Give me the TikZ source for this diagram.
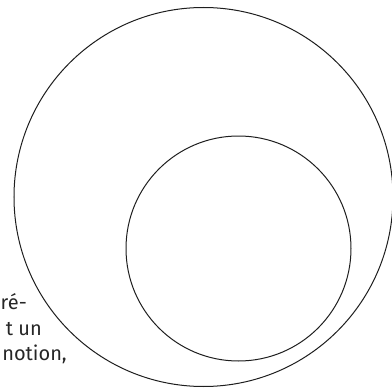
\documentclass[tikz,border=0pt]{standalone}
\usepackage{fontspec}
\setmainfont{Fira Sans}
\usepackage{xcolor}
\definecolor{ink}{HTML}{1E1E1E}
\definecolor{body-text}{HTML}{262626}

\begin{document}
\begin{tikzpicture}[x=1pt, y=-1pt,
      ring/.style={draw=ink, line width=1pt, circle, inner sep=0pt},
      textline/.style={anchor=base east, inner sep=0pt,
        text=body-text, font=\fontsize{20}{24}\selectfont}]
    \useasboundingbox (0,0) rectangle (392,388);
    % the two circles
    \node[ring, minimum size=379pt] (outer) at (203.5,197) {};
    \node[ring, minimum size=225pt] (inner) at (238.5,248.5) {};
    % text ends beside the outer circle
    \node[textline] (line1) at (27,309) {ré-};
    \node[textline] (line2) at (42,335) {t un};
    \node[textline] (line3) at (67,360) {notion,};
  \end{tikzpicture}
\end{document}
